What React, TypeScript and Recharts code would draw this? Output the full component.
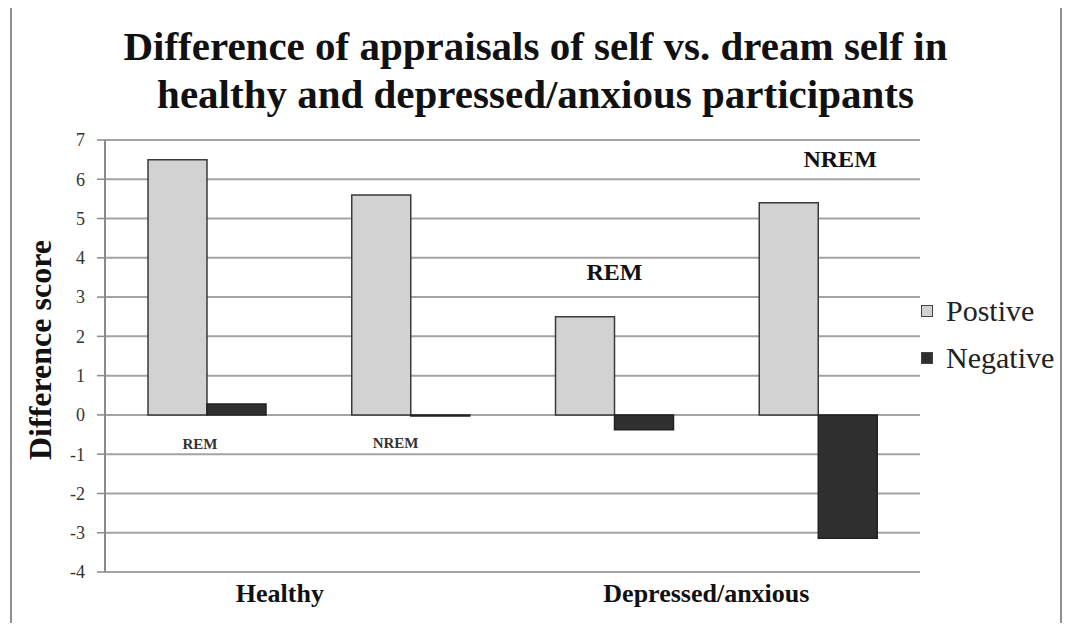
import React from 'react';
import { BarChart, Bar, XAxis, YAxis, CartesianGrid, Legend, ReferenceDot } from 'recharts';

// categories (one per bar pair)
const categories = ['Healthy REM', 'Healthy NREM', 'Depressed/anxious REM', 'Depressed/anxious NREM'];
// series values
const positive = [6.5, 5.6, 2.5, 5.4];
const negative = [0.28, -0.03, -0.38, -3.14];
// labels
const seriesNames = ['Postive', 'Negative'];
const stageLabels = ['REM', 'NREM', 'REM', 'NREM'];
const groupLabels = ['Healthy', 'Depressed/anxious'];
const yTicks = [-4, -3, -2, -1, 0, 1, 2, 3, 4, 5, 6, 7];
const titleLines = [
  'Difference of appraisals of self vs. dream self in',
  'healthy and depressed/anxious participants',
];

const SERIF = "'Liberation Serif', 'Times New Roman', serif";
const seriesColors: Record<string, string> = { Postive: '#d2d2d2', Negative: '#2f2f2f' };

const data = categories.map((c, i) => ({ key: c, Postive: positive[i], Negative: negative[i] }));

// where the REM / NREM notes sit (value units on y, pixel nudge on x)
const stageNotes = [
  { y: -0.74, dx: -7, size: 15, color: '#333' },
  { y: -0.72, dx: -15, size: 15, color: '#333' },
  { y: 3.63, dx: 0, size: 24, color: '#111' },
  { y: 6.52, dx: 22, size: 24, color: '#111' },
];
const groupDx = [73, 92];

const GroupTick = (props: any) => {
  const { x, y, payload } = props;
  const i = payload.index;
  if (i % 2 !== 0) return null;
  const g = i / 2;
  return (
    <text x={x + groupDx[g]} y={y + 30} textAnchor="middle" fontFamily={SERIF} fontWeight="bold" fontSize={26} fill="#111">
      {groupLabels[g]}
    </text>
  );
};

const YTitle = (props: any) => {
  const vb = props.viewBox || { x: 0, y: 132, width: 97, height: 432 };
  const cx = vb.x + 32;
  const cy = vb.y + vb.height / 2 - 6;
  return (
    <text x={cx} y={cy} transform={`rotate(-90, ${cx}, ${cy})`} textAnchor="middle" dominantBaseline="central"
      fontFamily={SERIF} fontWeight="bold" fontSize={32} fill="#111">
      Difference score
    </text>
  );
};

const LegendBox = (props: any) => {
  const items = [...(props.payload || [])].sort(
    (a: any, b: any) => seriesNames.indexOf(a.value) - seriesNames.indexOf(b.value)
  );
  return (
    <div style={{ fontFamily: SERIF, fontSize: 30, color: '#222' }}>
      {items.map((p: any) => (
        <div key={p.value} style={{ display: 'flex', alignItems: 'center', height: 47 }}>
          <span style={{ width: 10, height: 10, background: seriesColors[p.value], border: '1px solid #444', marginRight: 13 }} />
          <span>{p.value}</span>
        </div>
      ))}
    </div>
  );
};

export default function App() {
  return (
    <div style={{ position: 'relative', width: 1055, height: 615 }}>
      <div style={{ position: 'absolute', left: 2, top: -2, width: 1048, height: 618, border: '2px solid #8f8f8f' }} />
      <svg width={1055} height={130} style={{ position: 'absolute', left: 0, top: 0 }}>
        {titleLines.map((t, i) => (
          <text key={i} x={527.5} y={52 + i * 48} textAnchor="middle" fontFamily={SERIF} fontWeight="bold" fontSize={41} fill="#111">
            {t}
          </text>
        ))}
      </svg>
      <BarChart width={1055} height={615} data={data} margin={{ top: 132, right: 143, bottom: 6, left: 0 }}
        barGap={0} barCategoryGap={43}>
        <CartesianGrid vertical={false} stroke="#a3a3a3" strokeWidth={2} />
        <XAxis dataKey="key" axisLine={false} tickLine={false} tickSize={0} tickMargin={0} height={45} interval={0} tick={<GroupTick />} />
        <YAxis domain={[-4, 7]} ticks={yTicks} interval={0} width={97} allowDataOverflow
          axisLine={{ stroke: '#8a8a8a', strokeWidth: 2 }} tickLine={{ stroke: '#8a8a8a', strokeWidth: 1.5 }}
          tickSize={8} tickMargin={12} tick={{ fill: '#333', fontSize: 18, fontFamily: SERIF }}
          label={{ value: 'Difference score', content: <YTitle /> }} />
        <Legend layout="vertical" align="center" verticalAlign="middle" content={<LegendBox />}
          wrapperStyle={{ left: 913, top: 279, width: 142 }} />
        <Bar dataKey="Postive" fill={seriesColors.Postive} stroke="#3a3a3a" strokeWidth={1.5} isAnimationActive={false} />
        <Bar dataKey="Negative" fill={seriesColors.Negative} stroke="#222" strokeWidth={1.5} isAnimationActive={false} />
        {categories.map((c, i) => (
          <ReferenceDot key={c} x={c} y={stageNotes[i].y} r={0} fill="none" stroke="none"
            label={{
              content: (p: any) => {
                const vb = p.viewBox || {};
                return (
                  <text x={vb.x + stageNotes[i].dx} y={vb.y} textAnchor="middle" dominantBaseline="central"
                    fontFamily={SERIF} fontWeight="bold" fontSize={stageNotes[i].size} fill={stageNotes[i].color}>
                    {stageLabels[i]}
                  </text>
                );
              },
            }} />
        ))}
      </BarChart>
    </div>
  );
}
